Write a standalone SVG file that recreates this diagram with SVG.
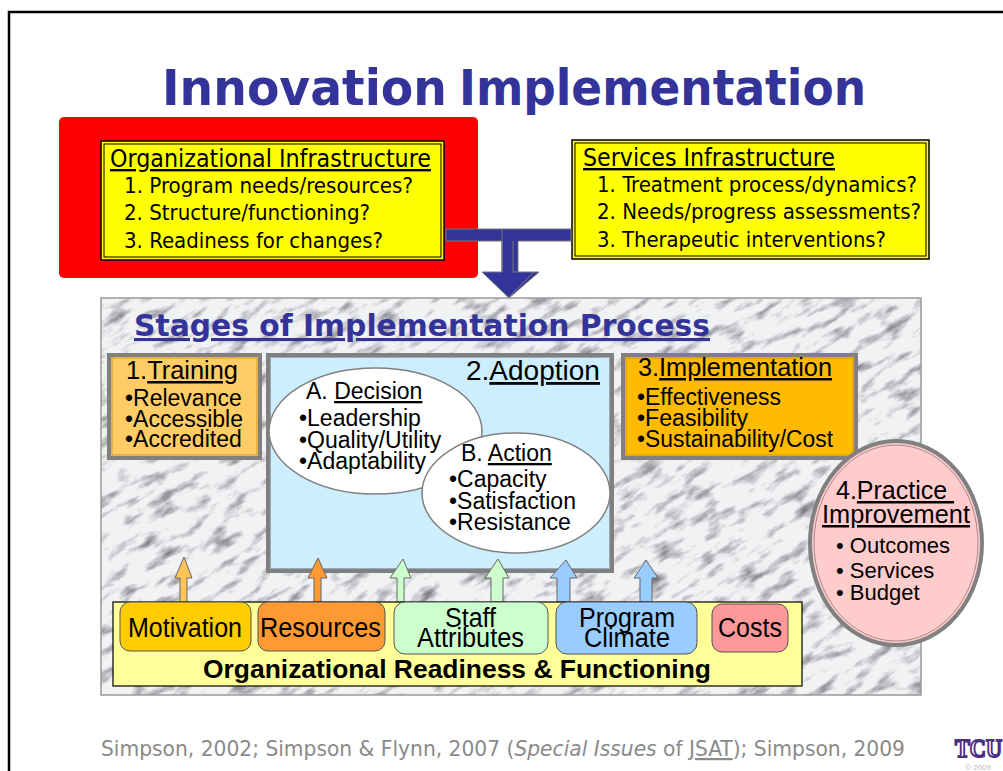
<svg xmlns="http://www.w3.org/2000/svg" width="1003" height="771" viewBox="0 0 1003 771">
<defs>
<filter id="marble" x="0" y="0" width="100%" height="100%" color-interpolation-filters="sRGB">
<feTurbulence type="fractalNoise" baseFrequency="0.035 0.1" numOctaves="5" seed="23" result="n"/>
<feColorMatrix in="n" type="matrix" values="0 0 0 0 0.47  0 0 0 0 0.47  0 0 0 0 0.5  2.4 0 0 0 -1.22" result="veins"/>
<feGaussianBlur in="veins" stdDeviation="0.6" result="v2"/>
<feMerge><feMergeNode in="SourceGraphic"/><feMergeNode in="v2"/></feMerge>
</filter>
<clipPath id="panelclip"><rect x="101" y="298" width="820" height="397"/></clipPath>
</defs>
<style>
text{font-family:"Liberation Sans",Arial,sans-serif;fill:#000}
.t{font-family:"DejaVu Sans",Verdana,sans-serif}
.c{font-family:"DejaVu Sans Condensed","DejaVu Sans",sans-serif}
.u{text-decoration:underline}
.i{font-size:21px}
.l{font-size:23px}
.h{font-size:24px}
.box{stroke:#808080;stroke-width:4}
.in{fill:none;stroke-width:1}
.ar{stroke:#666;stroke-width:1}
.r{stroke:#555;stroke-width:1}
.b{font-size:27px}
</style>
<rect width="1003" height="771" fill="#fff"/>
<path d="M9 771V12H1003" fill="none" stroke="#000" stroke-width="2.500"/>
<text id="title" class="t" y="105" font-size="50" font-weight="700" style="fill:#333399"><tspan x="162" textLength="285" lengthAdjust="spacingAndGlyphs">Innovation</tspan> <tspan x="459" textLength="407" lengthAdjust="spacingAndGlyphs">Implementation</tspan></text>

<g id="org-infrastructure">
<rect x="59" y="117" width="419" height="161" rx="5" fill="#f00"/>
<rect x="101" y="141" width="343" height="119" fill="#ff0" stroke="#000" stroke-width="1.500"/>
<rect x="104" y="144" width="337" height="113" class="in" stroke="#000"/>
<text x="110" y="167" class="c u h" textLength="321" lengthAdjust="spacingAndGlyphs">Organizational  Infrastructure</text>
<text x="124" y="193" class="c i" textLength="289" lengthAdjust="spacingAndGlyphs">1. Program needs/resources?</text>
<text x="124" y="220" class="c i" textLength="246" lengthAdjust="spacingAndGlyphs">2. Structure/functioning?</text>
<text x="124" y="248" class="c i" textLength="259" lengthAdjust="spacingAndGlyphs">3. Readiness for changes?</text>
</g>
<g id="services-infrastructure">
<rect x="572" y="140" width="357" height="119" fill="#ff0" stroke="#000" stroke-width="1.500"/>
<rect x="575" y="143" width="351" height="113" class="in" stroke="#000"/>
<text x="583" y="166" class="c u h" textLength="252" lengthAdjust="spacingAndGlyphs">Services  Infrastructure</text>
<text x="597" y="192" class="c i" textLength="320" lengthAdjust="spacingAndGlyphs">1. Treatment process/dynamics?</text>
<text x="597" y="219" class="c i" textLength="324" lengthAdjust="spacingAndGlyphs">2. Needs/progress assessments?</text>
<text x="597" y="247" class="c i" textLength="289" lengthAdjust="spacingAndGlyphs">3. Therapeutic interventions?</text>
</g>
<g id="stages-panel">
<g clip-path="url(#panelclip)">
<rect x="-100" y="100" width="1300" height="900" fill="#f1f2f4" filter="url(#marble)" transform="rotate(-32 511 496)"/>
</g>
<rect x="101" y="298" width="820" height="397" fill="none" stroke="#999" stroke-width="1.500"/>
<text x="134" y="336" class="t u" font-size="31" font-weight="700" style="fill:#333399" textLength="576" lengthAdjust="spacingAndGlyphs">Stages of Implementation Process</text>
</g>
<g id="training">
<rect x="109" y="355" width="151" height="103" fill="#ffcc66" class="box"/>
<rect x="112" y="358" width="145" height="97" class="in" stroke="#cc9933"/>
<text x="126" y="379" font-size="25" textLength="112" lengthAdjust="spacingAndGlyphs">1.<tspan class="u">Training</tspan></text>
<text x="125" y="406" class="l">•Relevance</text>
<text x="125" y="427" class="l">•Accessible</text>
<text x="125" y="447" class="l">•Accredited</text>
</g>
<g id="adoption">
<rect x="268" y="355" width="344" height="216" fill="#cceeff" class="box"/>
<rect x="270.500" y="357.500" width="339" height="211" fill="none" stroke="#9ab" stroke-width="1"/>
<text x="466" y="380" font-size="28">2.<tspan class="u">Adoption</tspan></text>
</g>
<g id="decision">
<ellipse cx="375.500" cy="431" rx="106.500" ry="63" fill="#fff" stroke="#808080" stroke-width="1.500"/>
<text x="306" y="399" font-size="23">A. <tspan class="u">Decision</tspan></text>
<text x="299" y="426" class="l">•Leadership</text>
<text x="299" y="448" class="l">•Quality/Utility</text>
<text x="299" y="469" class="l">•Adaptability</text>
</g>
<g id="action">
<ellipse cx="516" cy="493" rx="94" ry="60" fill="#fff" stroke="#808080" stroke-width="1.500"/>
<text x="461" y="461" font-size="23">B. <tspan class="u">Action</tspan></text>
<text x="449" y="487" class="l">•Capacity</text>
<text x="449" y="509" class="l">•Satisfaction</text>
<text x="449" y="530" class="l">•Resistance</text>
</g>
<g id="implementation">
<rect x="623" y="355" width="233" height="103" fill="#ffbb00" class="box"/>
<rect x="626" y="358" width="227" height="97" class="in" stroke="#cc9900"/>
<text x="638" y="376" font-size="25" textLength="194" lengthAdjust="spacingAndGlyphs">3.<tspan class="u">Implementation</tspan></text>
<text x="637" y="405" class="l" textLength="144" lengthAdjust="spacingAndGlyphs">•Effectiveness</text>
<text x="637" y="426" class="l" textLength="111" lengthAdjust="spacingAndGlyphs">•Feasibility</text>
<text x="637" y="447" class="l" textLength="196" lengthAdjust="spacingAndGlyphs">•Sustainability/Cost</text>
</g>
<g id="connectors">
<path d="M446 229H571V241H518V272H539L509 298L482 272H502V241H446Z" fill="#333399" stroke="#777" stroke-width="1"/>
<path d="M502 229V272M513 241V272H518M534 272L509 297" fill="none" stroke="#777" stroke-width="1"/>
<path d="M180 602V578H175L184 557L192 578H187V602Z" fill="#ffc35a" class="ar"/>
<path d="M314 602V578H308L318 558L327 578H321V602Z" fill="#ff9933" class="ar"/>
<path d="M397 602V578H390L403 559L411 578H404V602Z" fill="#ccffcc" class="ar"/>
<path d="M491 602V578H485L498 559L509 578H503V602Z" fill="#ccffcc" class="ar"/>
<path d="M557 602V578H550L566 560L577 578H570V602Z" fill="#99ccff" class="ar"/>
<path d="M640 602V578H634L646 560L658 578H652V602Z" fill="#99ccff" class="ar"/>
</g>
<g id="practice-improvement">
<ellipse cx="896" cy="543" rx="86" ry="102" fill="#ffcccc" stroke="#808080" stroke-width="4"/>
<ellipse cx="896" cy="543" rx="82" ry="98" fill="none" stroke="#a88" stroke-width="1"/>
<text x="836" y="499" font-size="25" xml:space="preserve">4.<tspan class="u">Practice </tspan></text>
<text x="822" y="523" font-size="25" class="u" textLength="148" lengthAdjust="spacingAndGlyphs">Improvement</text>
<text x="836" y="553" font-size="22">• Outcomes</text>
<text x="836" y="578" font-size="22">• Services</text>
<text x="836" y="600" font-size="22">• Budget</text>
</g>
<g id="readiness">
<rect x="113" y="602" width="689" height="84" fill="#ffff99" stroke="#000" stroke-width="1.200"/>
<text x="203" y="678" font-size="26" font-weight="700" textLength="508" lengthAdjust="spacingAndGlyphs">Organizational Readiness &amp; Functioning</text>
</g>
<g id="motivation">
<rect x="120" y="602" width="131" height="49" rx="10" fill="#ffcc00" class="r"/>
<text x="128" y="637" class="b" textLength="114" lengthAdjust="spacingAndGlyphs">Motivation</text>
</g>
<g id="resources">
<rect x="258" y="602" width="127" height="49" rx="10" fill="#ff9933" class="r"/>
<text x="260" y="637" class="b" textLength="121" lengthAdjust="spacingAndGlyphs">Resources</text>
</g>
<g id="staff-attributes">
<rect x="394" y="602" width="154" height="52" rx="11" fill="#ccffcc" class="r"/>
<text x="445" y="627" class="b" textLength="51" lengthAdjust="spacingAndGlyphs">Staff</text>
<text x="417" y="647" class="b" textLength="107" lengthAdjust="spacingAndGlyphs">Attributes</text>
</g>
<g id="program-climate">
<rect x="556" y="602" width="141" height="52" rx="11" fill="#99ccff" class="r"/>
<text x="579" y="627" class="b" textLength="96" lengthAdjust="spacingAndGlyphs">Program</text>
<text x="584" y="647" class="b" textLength="86" lengthAdjust="spacingAndGlyphs">Climate</text>
</g>
<g id="costs">
<rect x="712" y="604" width="76" height="48" rx="10" fill="#ff9999" class="r"/>
<text x="718" y="637" class="b" textLength="64" lengthAdjust="spacingAndGlyphs">Costs</text>
</g>
<text id="citation" class="c" x="101" y="756" font-size="22" style="fill:#8a8a8a" textLength="804" lengthAdjust="spacingAndGlyphs">Simpson, 2002; Simpson &amp; Flynn, 2007 (<tspan font-style="italic">Special Issues</tspan> of <tspan class="u">JSAT</tspan>); Simpson, 2009</text>
<g id="tcu-logo">
<text x="955" y="757" font-size="25" font-weight="700" style="font-family:'Liberation Serif',serif;fill:#fff;stroke:#4d2f80;stroke-width:2" textLength="47" lengthAdjust="spacingAndGlyphs">TCU</text>
<text x="965" y="770" font-size="8" style="fill:#bbb">© 2009</text>
</g>
</svg>
